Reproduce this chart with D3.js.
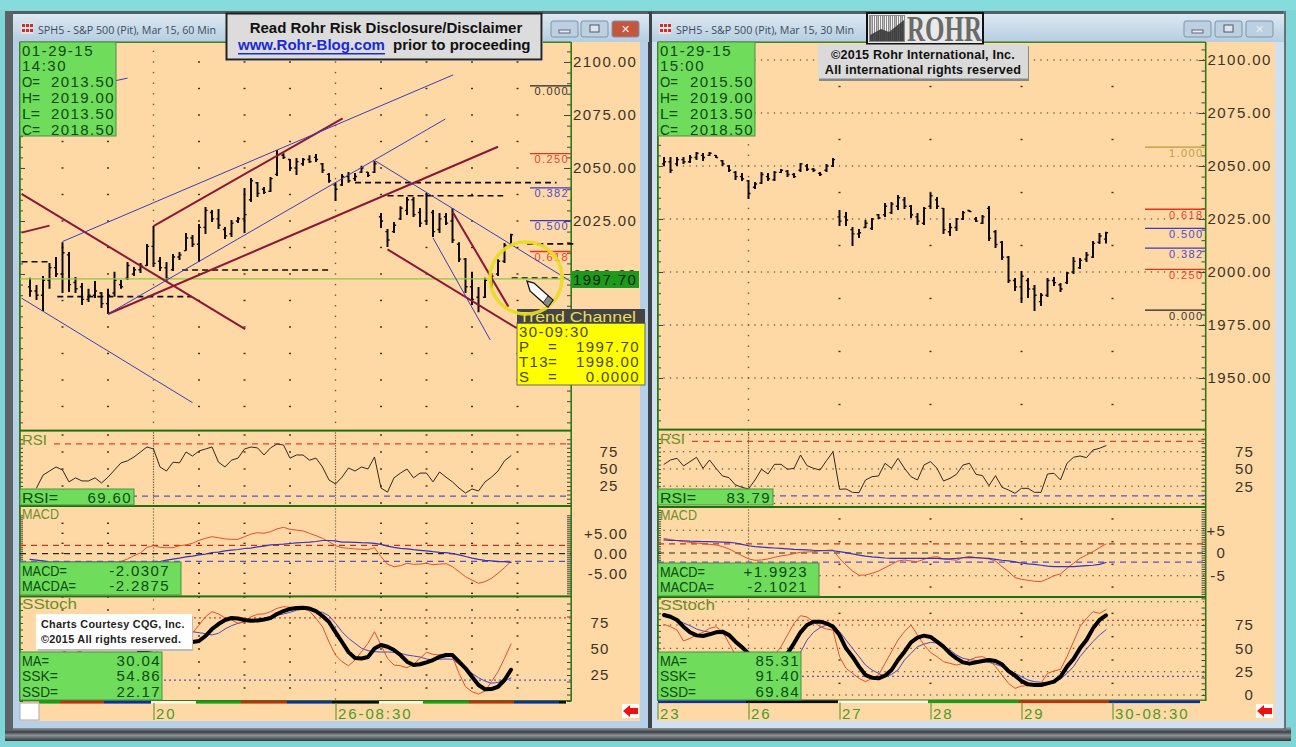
<!DOCTYPE html>
<html><head><meta charset="utf-8">
<script src="https://cdnjs.cloudflare.com/ajax/libs/d3/7.8.5/d3.min.js"></script>
<style>html,body{margin:0;padding:0;background:#7fd6d6;overflow:hidden}svg{display:block}
text{font-family:"Liberation Sans",Arial,sans-serif}
.dom path{display:none}</style></head><body><svg id="c" width="1296" height="747"></svg>
<script>
// ---------- 60 min window data ----------
const highL=[1998.2,1994.8,1999.1,2005.2,2008,2015,2010.4,1998.6,1995.8,1993,1996.7,1991.5,1993,2001,1997.2,2005.7,2003.3,2005.2,2014.2,2022.6,2008,2005.7,2009.4,2010.4,2019.3,2018.4,2023.6,2031.6,2030.2,2030.7,2022.2,2025.5,2026.9,2040.6,2045.3,2043.4,2041,2045.8,2058.5,2057,2054.25,2054.75,2054.75,2056,2056.6,2052.4,2047.6,2043,2047.2,2048.1,2047.6,2051,2048.1,2053.3,2028.8,2021.2,2024.5,2032,2036.3,2036.3,2031.1,2038.2,2030.2,2028.8,2028.8,2031.1,2015,2007.5,2001,1993.9,1998.2,2000.5,2007,2014.6,2019];
const lowL=[1989.2,1987.7,1982.5,1993,1998.6,1991,1991.5,1991,1985.4,1986.8,1988.7,1984,1981.1,1989.2,1993,1997.2,1999.1,2000.5,2003.8,2003.3,2001.4,1996.7,2001.4,2006.6,2010.9,2012.7,2005.7,2018.9,2024.5,2021.2,2016.5,2017.5,2024,2019.3,2034,2036.3,2037.7,2038.7,2046.2,2054.25,2048.6,2046.7,2051,2052.4,2052.8,2047.6,2043,2034.4,2041.5,2043,2043.9,2047.6,2045.8,2047.6,2021.7,2012.7,2019.3,2025.5,2027.8,2026.9,2022.2,2023.1,2017.5,2019.3,2023.1,2014.6,2005.7,1991,1985.4,1982,1988.7,1993.4,1999.1,2005.2,2013.5];
const openL=[1994,1992,1990,1997,2003,2000,2009,1996,1994,1988,1990,1991,1986,1991,1995,1998,2000,2002,2004,2013,2006,2003,2002,2008,2011,2017,2014,2022,2029,2026,2021,2019,2025,2026,2035,2043,2040,2039,2047,2056,2054,2050,2052,2054,2055,2052,2047,2042,2042,2046,2045,2048,2048,2048,2027,2020,2020,2026,2030,2035,2029,2025,2029,2021,2027,2025,2014,2007,1994,1989,1989,1996,2000,2006,2013.5];
const closeL=[1992,1990,1997,2003,2000,2010,1995,1993,1988,1990,1992,1986,1990,1997,1994,2004,2002,2004,2013,2005,2003,1998,2008,2009,2017,2014,2022,2030,2026,2023,2018,2024,2026,2028,2044,2038,2038.5,2045,2056,2055,2050,2053,2054,2053,2054,2049,2044,2040,2046,2044,2046,2050,2046.5,2052,2025,2016,2023,2031,2035,2028,2024,2037,2020,2026,2024,2016,2007,1994,1988,1985,1997,1999,2006,2013.5,2018.5];
const rsiL=[null,22,41,47,53,48.5,31,37,32.4,32.4,37,29.4,38,48.5,59,62,67.7,75,82.4,79.4,53,47,60,59,75,69,76.5,79.4,82.4,60,53,63,66,79.4,82.4,81,70.6,81,86.8,85.3,66,70.6,70.6,63,66,53,33.8,28,38,51.5,47,53,50,67.7,22,16,37,44,50,37,44,44,31,45.6,38,31,22,14.7,20.6,17.7,31,38,47,62,69.6];
const macdL=[null,null,null,null,null,null,null,null,null,null,null,null,null,null,-2.1,-1.4,-.6,.1,1.5,1.9,1.5,1.4,1.4,1.9,2.1,2.5,3.25,3.75,4.15,3.9,3.6,3.5,3.5,4.15,4.8,5.15,5,5.4,6.1,6.5,6,5.8,5.6,5,4.4,3.75,2.9,1.9,1.4,1.25,1.1,1,.9,1.4,-.85,-2.75,-3.35,-3.1,-2.5,-2.75,-2.7,-2.5,-2.85,-2.7,-2.6,-3.35,-4.6,-5.85,-6.7,-7.5,-7.1,-6.25,-5,-3.6,-2.03];
const macdaL=[-1.5,-1.7,-1.9,-2.2,-2.2,-2.2,-2.2,-2.2,-2.2,-2.2,-2.2,-2.2,-2.2,-2.2,-2.2,-2.2,-2.2,-2.2,-2.2,-2.2,-2.05,-1.7,-1.45,-1.2,-.9,-.7,-.4,-.2,.2,.3,.6,.8,.95,1.2,1.3,1.6,1.8,2.1,2.2,2.3,2.45,2.6,2.7,2.8,2.95,3.2,3.2,3.1,2.8,2.8,2.75,2.65,2.6,2.5,2.25,1.8,1.5,1.25,1.1,.9,.75,.6,.4,.25,.15,-.1,-.4,-.8,-1.2,-1.5,-1.75,-1.9,-2.1,-2.1,-2.29];
const stochMaL=[null,null,null,null,null,null,null,null,null,null,null,null,null,null,29.8,34.6,41.3,48.6,49,50,51,52,53,54.8,56.7,56.7,57.7,62.5,69.2,74,77.9,79.8,79.3,77.9,77.2,77.4,78.4,79.8,83.7,86.5,88.5,89.4,89.7,88.9,86.5,81.7,76,66.3,56.7,47,41.3,40.9,42.3,50.5,53.8,52.2,49,44.2,37.8,34.6,35.3,37.2,39.4,42.6,44.2,44.2,37.8,31.4,23.4,15.4,11.3,11.5,13.7,20.2,30.04];
const stochSskL=[null,null,null,null,34.6,47,49,48.6,47,34.6,25,20,15.4,20,25,29.8,34.6,39.4,41,44,51,53.8,52,50,58.7,65.4,73,81,85.9,83.7,80,77.9,74.7,76.2,81,83.4,83.7,85.9,89.1,90.7,90.1,89.7,89.1,86.5,79.5,71.4,56.7,44.2,37.8,33.9,39.4,47.4,55.5,66.6,53.8,41,34.6,33.9,32,35.3,41,46.8,44.9,44.2,44.2,42.6,26.6,13.7,8.9,6.7,9.6,18.6,28.2,41,54.86];
const stochSsdL=[null,null,null,null,null,null,null,null,null,null,null,null,null,null,null,null,null,44.2,48,52,55.8,58.7,61.5,64.4,66,66.6,65.7,64.7,63.5,65.1,69.2,72.4,74.7,76.2,77.2,77.9,79.1,80.8,82.4,83.7,85.3,87.2,88.2,87.5,85.9,85.3,82,74.7,66.6,60.3,55.5,50.7,48.4,47.4,47.1,47.1,46.8,45.9,44.2,43.3,42.3,40.4,39.4,40.1,40.4,40.1,35.3,30.8,26.6,22.4,19.2,17,18,19.2,22.17];
const fibNamesL=["0.000","0.250","0.382","0.500","0.618"];
const fibPricesL=[2088.7,2056.8,2040.6,2025.2,2010.6];
const fibColorsL=["#222","#e8321e","#3a3ac8","#3a3ac8","#e8321e"];
const dashPricesL=[2005.8,1989.3,2001.9,2043.1,2036.9,2014.2,1998.1];
const dashFromL=[-1.3,4.2,23.4,50,55,76.5,74.1];
const dashToL=[2.7,24.9,46.2,81,72.8,83.7,81.5];
// trend lines as [bar index, price, bar index, price]
const blueLinesL=[[5,2015.3,65.1,2093.9],[12,1981.1,63.9,2073.1],[10.8,2089.6,15,2092.4],[-1.3,1988.6,25,1939.3],[53.1,2053.4,83.1,1996.7],[62,2017,70.8,1968.9]];
const redLinesL=[[12,1981.1,72,2060],[19,2022.6,48.1,2073.4],[-1.3,2037.8,33.1,1974],[-1.3,2019.5,3,2022.8],[55,2011.6,74.9,1974.4],[65,2029.4,73.6,1984.6]];
const lastPriceL=1997.7;
// ---------- 30 min window data ----------
const highR=[2054.25,2054.25,2054.25,2054.25,2055.2,2056.6,2056.1,2056.6,2055.2,2052.8,2050.5,2047.6,2046.7,2043.4,2042.45,2047.2,2046.7,2047.6,2048.6,2048.1,2046.7,2051.4,2050.9,2049,2047.2,2050.9,2053.8,2029.2,2028.3,2021.2,2020.3,2024.5,2025.5,2027.4,2032.5,2033,2036.3,2035.4,2031.6,2027.8,2030.7,2037.3,2035.4,2030.2,2023.1,2025.5,2028.8,2029.2,2025.9,2026.9,2031.1,2019.8,2014.6,2007.5,1997.2,2000.5,1997.2,1993.9,1990.1,1997.2,1997.6,1994.8,2000,2007.1,2006.6,2009.4,2014.6,2018.4,2019];
const lowR=[2050,2046.7,2050,2051,2051.4,2052.8,2052.35,2054.7,2053.8,2050,2047.2,2043.4,2042.9,2034.4,2039.15,2041.5,2042.9,2042.9,2046.7,2044.8,2044.3,2047.2,2047.6,2047.2,2045.3,2047.2,2049.5,2021.7,2021.7,2012.3,2016,2020.8,2019.8,2025,2025.9,2027.4,2029.2,2029.7,2025.5,2022.2,2022.2,2029.7,2029.7,2017.9,2017,2019.3,2024.5,2028.3,2023.6,2022.6,2014.6,2011.3,2005.7,1994.8,1991,1985.4,1987.7,1981.6,1984,1988.2,1993.4,1990.6,1994.3,1999,2001.4,2004.7,2006.6,2013.2,2013.5];
const openR=[2051,2052,2051,2053,2052,2054,2055,2055,2055,2052.5,2050,2047,2045,2043,2040,2042,2045,2043.5,2047,2047.5,2046,2048,2050,2048.5,2046.5,2048,2050,2026,2026,2020,2018,2021,2020.5,2027,2027,2028,2031,2034,2031,2026,2023,2031,2034,2030,2019,2021,2025,2029,2025,2023,2030,2019,2014,2007,1996,1993,1996,1992,1986,1989,1996,1994,1995,2000,2002,2006,2007,2014,2015.5];
const closeR=[2052,2048,2053,2052,2054,2056,2054,2056,2054,2051,2048,2045,2044,2037,2041.5,2046,2044,2047,2048,2046,2045,2051,2048.5,2048,2046,2050,2053,2024,2024.5,2018,2018.5,2023,2025,2025.5,2031,2032,2035,2031,2027,2024,2030,2036,2031,2020,2021,2025,2028,2028.5,2024,2026,2016,2013,2007,1996,1993,1998,1992,1989,1989,1996,1995,1992,1999.5,2005,2005.5,2008,2013.5,2017,2018.5];
const rsiR=[56.7,63,65.4,54.3,60.6,66.9,50.9,63,50.9,39.8,37.4,26.8,23.4,21,34,49.5,42.7,56.7,56.7,49.5,50.9,70.2,54.8,50.9,48.5,62,75,20.5,21,16.1,15.6,34,38.8,39.8,58.2,50.9,65.4,50.9,38.8,34,55.7,60.6,50.9,32.6,36.4,42.2,55.7,58.2,42.2,40.3,25.8,40.3,23.4,19.5,14.7,21.9,21.9,16.1,16.1,42.7,43.7,34,58.2,66.9,68.8,66.4,77.5,79.9,83.79];
const macdR=[3.23,2.94,2.72,2.5,2.35,2.2,2.06,1.9,1.77,1.4,.9,.15,-.58,-1.3,-1.6,-1.54,-1.3,-.95,-.65,-.44,-.14,.15,.22,.3,.45,.59,.67,-1.17,-2.64,-3.96,-4.9,-4.84,-4.47,-3.96,-3.23,-2.49,-1.76,-1.54,-1.76,-1.9,-1.39,-.95,-.8,-1.3,-1.46,-1.6,-1.02,-.73,-1.02,-1.17,-1.3,-1.76,-3,-4.1,-5.43,-5.8,-6,-6.23,-6.3,-5.72,-4.99,-4.62,-3.37,-2.27,-1.17,-.44,.3,1.18,1.99];
const macdaR=[2.87,2.8,2.75,2.7,2.6,2.55,2.5,2.5,2.45,2.4,2.35,2.2,1.9,1.6,1.4,1.3,1.2,1.1,1,.9,.8,.75,.7,.6,.55,.5,.5,.3,.1,-.2,-.45,-.7,-.85,-.95,-1.1,-1.17,-1.17,-1.17,-1.17,-1.17,-1.2,-1.2,-1.2,-1.3,-1.3,-1.2,-1.05,-1,-1.02,-1.1,-1.2,-1.4,-1.6,-1.75,-1.95,-2.2,-2.4,-2.5,-2.7,-2.9,-3,-3,-3,-3,-2.9,-2.8,-2.7,-2.5,-2.1];
const stochMaR=[85.7,83.9,80.4,73.2,67.2,63.9,63.2,65,67.2,67.9,64.3,57.2,51.1,44.6,32.1,21.4,21.4,30.4,39.3,44.6,55.4,67.2,75,78.6,78.6,76.8,73.2,64.3,50,41.1,30.4,21.4,18.6,17.9,20.7,26.8,37.5,46.4,56.4,61.4,63.6,62.2,57.2,51.8,44.6,39.3,35,33.6,35,36.4,37.5,36.4,32.9,25.7,20.7,15,11.4,10.7,10.7,12.5,14.3,19.6,30.4,38.6,50,58.9,71.4,80.4,85.31];
const stochSskR=[75.7,73.2,69.7,57.9,60.7,64.3,67.2,71.4,73.2,67.9,55.4,42.9,32.1,17.9,10.7,14.3,28.6,42.9,51.8,64.3,76.8,85,83.6,78.6,73.2,70.7,69.7,41.1,28.6,23.2,17.9,14.3,17.9,21.4,33.9,46.4,58.9,67.9,75,64.3,53.6,45.7,41.1,35.7,33.9,32.1,33.9,37.5,40.4,41.1,37.5,30.4,21.4,12.5,7.1,9.6,10,12.5,12.5,23.2,25.7,27.5,41.1,57.2,73.2,82.2,89.3,87.5,91.4];
const stochSsdR=[85.7,82.9,80.4,77.2,74.3,70.7,68.6,67.2,66.1,65.7,62.5,58.9,53.6,46.4,39.3,30.4,25,19.6,23.2,32.1,39.3,45.7,58.9,67.2,72.2,75,75.7,67.9,58.9,50,41.1,32.1,26.8,23.2,19.6,22.1,26.8,37.5,44.6,51.8,54.6,56.4,55.7,51.8,48.2,42.9,39.3,37.9,37.1,36.4,35,32.9,30.4,27.5,23.2,19.6,16.1,14.3,13.6,13.2,14.3,17.1,23.2,30.4,41.1,49.3,57.2,64.3,69.84];
const fibNamesR=["1.000","0.618","0.500","0.382","0.250","0.000"];
const fibPricesR=[2058.9,2029.6,2020.6,2011.3,2001.2,1982];
const fibColorsR=["#b89a3a","#e8321e","#3a3ac8","#3a3ac8","#e8321e","#222"];
// ---------- labels ----------
const priceTicksL=[2100,2075,2050,2025],priceTicksR=[2100,2075,2050,2025,2000,1975,1950];
const pctTicks=[75,50,25],stochTicksR=[75,50,25,0];
const macdTicksL=[5,0,-5];
const timeTicksL=[19,47],timeLabelsL=["20","26-08:30"];
const timeTicksR=[-1,13,27,41,55,69],timeLabelsR=["23","26","27","28","29","30-08:30"];
const ohlcL=[["01-29-15",""],["14:30",""],["O=","2013.50"],["H=","2019.00"],["L=","2013.50"],["C=","2018.50"]];
const ohlcR=[["01-29-15",""],["15:00",""],["O=","2015.50"],["H=","2019.00"],["L=","2013.50"],["C=","2018.50"]];

// ---------- scales ----------
const xL=d3.scaleLinear().domain([0,74]).range([30,511]);
const xR=d3.scaleLinear().domain([0,68]).range([664,1106]);
const yL=d3.scaleLinear().domain([1926.4,2109.43]).range([430,42]);
const yR=d3.scaleLinear().domain([1925.94,2108.49]).range([429,42]);
const rsiYL=d3.scaleLinear().domain([0,100]).range([503,435]);
const rsiYR=d3.scaleLinear().domain([0,100]).range([503.45,434.45]);
const macdYL=d3.scaleLinear().domain([-5,5]).range([573.3,533.3]);
const macdYR=d3.scaleLinear().domain([-5,5]).range([575.7,530.3]);
const stoYL=d3.scaleLinear().domain([0,100]).range([701,597]);
const stoYR=d3.scaleLinear().domain([0,100]).range([695,601.7]);

const svg=d3.select("#c");
const defs=svg.append("defs");
const tg=defs.append("linearGradient").attr("id","tb").attr("x1",0).attr("x2",0).attr("y1",0).attr("y2",1);
tg.append("stop").attr("offset",0).attr("stop-color","#dde8f2");tg.append("stop").attr("offset",1).attr("stop-color","#b5cde2");
const bg=defs.append("linearGradient").attr("id","bb").attr("x1",0).attr("x2",0).attr("y1",0).attr("y2",1);
[["0","#a9acae"],[".35","#3b4146"],[".6","#8c9296"],["1","#2f3539"]].forEach(s=>bg.append("stop").attr("offset",s[0]).attr("stop-color",s[1]));
const PEACH="#fed9a5",GB="#6fdc5c",PB="#2d7a16";
const hy=s=>String(s).replace("\u2212","-");
const rect=(g,x,y,w,h,f,extra)=>{const r=g.append("rect").attr("x",x).attr("y",y).attr("width",w).attr("height",h).attr("fill",f);if(extra)for(const k in extra)r.attr(k,extra[k]);return r;};
const txt=(g,x,y,s,o={})=>{const t=g.append("text").attr("x",x).attr("y",y).text(s).attr("font-size",o.size||15).attr("fill",o.fill||"#222").attr("dominant-baseline","central");
 if(o.anchor)t.attr("text-anchor",o.anchor);if(o.ls!==undefined)t.style("letter-spacing",o.ls+"px");else t.style("letter-spacing","1.4px");if(o.weight)t.attr("font-weight",o.weight);if(o.family)t.style("font-family",o.family);
 if(o.len)t.attr("textLength",o.len).attr("lengthAdjust","spacingAndGlyphs").style("letter-spacing","0px");return t;};

// ---------- desktop & window chrome ----------
rect(svg,0,0,1296,747,"#7fd6d6");
rect(svg,0,0,1296,10,"#86dcdc");
rect(svg,5,727,1286,14,"url(#bb)");
rect(svg,5,11,1280,3,"#565c60");
rect(svg,5,11,8,720,"#5c6265");
rect(svg,1283,11,3,720,"#6a7074");
rect(svg,13,14,636,714,"#b6d0ea");
rect(svg,652,14,632,714,"#cfe0f0");
rect(svg,648,12,4,716,"#3d4347");
rect(svg,13,14,636,28,"url(#tb)");
rect(svg,652,14,632,28,"url(#tb)");
rect(svg,20,42,620,679,PEACH);
rect(svg,658,42,617,679,PEACH);

// window title, icon, buttons
const win=(x0,title,btns,closeRed)=>{
 const g=svg.append("g");
 rect(g,x0,23,12,11,"#e8e2e2");
 d3.range(3).forEach(i=>d3.range(2).forEach(j=>rect(g,x0+1+i*4,24+j*5,3,3,"#c83030")));
 txt(g,x0+17,29,title,{size:11,fill:"#3c4c5c",len:178,family:"'Open Sans',sans-serif"});
 btns.forEach((b,i)=>{
  rect(g,b,21,27,16,(i==2&&closeRed)?"#c4563e":"#bcd0e2",{stroke:"#7d95aa",rx:2});
  if(i==0)rect(g,b+8,30,11,3,"#e8eef4",{stroke:"#667"});
  if(i==1)rect(g,b+9,25,9,7,"#dde6ee",{stroke:"#556"});
  if(i==2)txt(g,b+13.5,29,"✕",{size:11,anchor:"middle",fill:closeRed?"#fbeee8":"#e8eef4",ls:0,weight:"bold",family:"'DejaVu Sans'"});
 });
};
win(21,"SPH5 - S&P 500 (Pit), Mar 15, 60 Min",[551,581,612],true);
win(659,"SPH5 - S&P 500 (Pit), Mar 15, 30 Min",[1184,1215,1246],false);

// ---------- generic dot grids ----------
const dots=(g,xs,ys,c,w,h)=>{ g.append("g").selectAll("rect").data(d3.cross(xs,ys)).join("rect")
  .attr("x",d=>d[0]-(w||2)/2).attr("y",d=>d[1]-(h||1.4)/2).attr("width",w||2).attr("height",h||1.4).attr("fill",c||"#3b2c14");};
const priceRows=(a,b,s)=>d3.range(a,b,s);

// ---------- one chart window ----------
function chart(o){
 const g=svg.append("g");
 const {x,y,rsiY,macdY,stoY,L,R}=o;
 dots(g,o.sparseX.map(x),o.sparseRows.map(y));
 if(o.denseRows) dots(g,d3.range(-1,84).map(x),o.denseRows.map(y),"#5e4e2e",1.3,1.2);
 dots(g,o.denseX.map(x),priceRows(1930,2110,5).map(y),"#6a5a3a",1.4,1.4);
 // panel dot rows
 [[rsiY,o.rsiRows,o.rsiDense],[macdY,o.macdRows,o.macdDense],[stoY,o.stoRows,o.stoDense]].forEach(([s,rows,dn])=>{
   dots(g,o.sparseX.map(x),rows.map(s));
   if(dn)dots(g,d3.range(-1,84).map(x),dn.map(s),"#5e4e2e",1.3,1.2);
 });
 dots(g,o.denseX.map(x),d3.range(0,100,3.6).map(v=>o.rsiPx[0]+v*0.72),"#6a5a3a",1.2,1.3);
 dots(g,o.denseX.map(x),d3.range(0,84,o.macdStep).map(v=>o.macdPx+v),"#7a6a4a",1.2,1.3);
 dots(g,o.denseX.map(x),d3.range(0,100,9).map(v=>o.stoPx+v),"#6a5a3a",1.2,1.3);

 // axes ticks
 const axis=(gen,tx,ty)=>{const a=g.append("g").attr("transform",`translate(${tx},${ty||0})`).call(gen);a.select(".domain").remove();a.selectAll(".tick line").attr("stroke","#444");a.selectAll("text").remove();return a;};
 [[y,priceRows(1930,2110,5)],[rsiY,d3.range(0,100,6.25)],[macdY,d3.range(-10,10,o.macdMinor)],[stoY,d3.range(0,100,6.25)]].forEach(([s,vals])=>{
   axis(d3.axisLeft(s).tickValues(vals).tickSize(4).tickFormat(""),R);
   axis(d3.axisRight(s).tickValues(vals).tickSize(3).tickFormat(""),L);
 });
 [[y,o.priceTicks.concat(o.extraMajor||[])]].forEach(([s,vals])=>{
   axis(d3.axisLeft(s).tickValues(vals).tickSize(7).tickFormat(""),R);
   axis(d3.axisRight(s).tickValues(vals).tickSize(5).tickFormat(""),L);
 });

 // panel borders
 rect(g,L-1,42,1.8,o.bottom-42,PB);
 rect(g,R-.6,42,1.6,o.bottom-42,PB);
 rect(g,L,41.5,R-L,1.4,PB);
 [o.rsiTop,o.macdTop,o.stoTop].forEach(v=>rect(g,L,v,R-L,2,"#1f7010"));
 rect(g,L-1,o.bottom-1,R-L+2,1.4,PB);

 // price axis
 const pa=g.append("g").attr("transform",`translate(${R+1},0)`).call(d3.axisRight(y).tickValues(o.priceTicks).tickFormat(d3.format(".2f")).tickSize(0).tickPadding(1));
 pa.select(".domain").remove();
 pa.selectAll("text").attr("font-size",15).attr("fill","#3a3428").style("letter-spacing","1.45px").style("font-family","'Liberation Sans'");

 const labAxis=(s,vals,fmt,px,anchor)=>{const a=g.append("g").attr("transform",`translate(${px},0)`).call((anchor=="end"?d3.axisLeft(s):d3.axisRight(s)).tickValues(vals).tickFormat(fmt).tickSize(0).tickPadding(0));
   a.select(".domain").remove();a.selectAll("text").attr("font-size",15).attr("fill","#3a3428").style("letter-spacing","1.2px").style("font-family","'Liberation Sans'");return a;};
 labAxis(rsiY,pctTicks,d3.format("d"),o.rsiLabX,"end");
 labAxis(macdY,macdTicksL,o.macdFmt,o.macdLabX,"end");
 labAxis(stoY,o.stoTicks,d3.format("d"),o.stoLabX,"end");

 // bars
 const bars=d3.range(o.high.length);
 const path=d3.path();
 bars.forEach(i=>{const X=x(i);path.moveTo(X,y(o.high[i]));path.lineTo(X,y(o.low[i]));});
 g.append("path").attr("d",path).attr("stroke","#0c0c10").attr("stroke-width",2).attr("fill","none");
 const tick=d3.path();
 bars.forEach(i=>{const X=x(i);tick.moveTo(X-2.1,y(o.open[i]));tick.lineTo(X,y(o.open[i]));tick.moveTo(X,y(o.close[i]));tick.lineTo(X+2.1,y(o.close[i]));});
 g.append("path").attr("d",tick).attr("stroke","#0c0c10").attr("stroke-width",1.4).attr("fill","none");

 // level lines
 const hline=(s,v,c,d,sw)=>g.append("line").attr("x1",o.levelX0).attr("x2",R).attr("y1",s(v)).attr("y2",s(v)).attr("stroke",c).attr("stroke-width",sw||1.2).attr("stroke-dasharray",d);
 hline(rsiY,o.rsiHi,"#e2402c","6 5");hline(rsiY,o.rsiLo,"#5252d0","6 5");
 g.append("line").attr("x1",L).attr("x2",R).attr("y1",macdY(2)).attr("y2",macdY(2)).attr("stroke","#c8321e").attr("stroke-width",1.2).attr("stroke-dasharray","6 5");
 g.append("line").attr("x1",L).attr("x2",R).attr("y1",macdY(0)+o.zeroOff).attr("y2",macdY(0)+o.zeroOff).attr("stroke","#2a2a22").attr("stroke-width",1.2).attr("stroke-dasharray","6 5");
 g.append("line").attr("x1",L).attr("x2",R).attr("y1",macdY(-2)).attr("y2",macdY(-2)).attr("stroke","#5252d0").attr("stroke-width",1.2).attr("stroke-dasharray","6 5");
 hline(stoY,80,"#e2402c","2 3");hline(stoY,20,"#5252d0","2 3");

 // indicators
 const ln=(s,arr,c,w)=>g.append("path").datum(arr).attr("d",d3.line().defined(d=>d!==null).x((d,i)=>x(i)).y(d=>s(d))).attr("fill","none").attr("stroke",c).attr("stroke-width",w).attr("stroke-linejoin","round").attr("stroke-linecap","round");
 ln(rsiY,o.rsi,"#2e2a20",1);
 ln(macdY,o.macd,"#e84e30",1);
 ln(macdY,o.macda,"#3434c0",1.2);
 ln(stoY,o.ssd,"#4a4ac4",1);
 ln(stoY,o.ssk,"#e84e30",1);
 ln(stoY,o.ma,"#000",4);

 // fib
 o.fibNames.forEach((n,i)=>{
  const v=o.fibPrices[i];
  g.append("line").attr("x1",o.fibX).attr("x2",R).attr("y1",y(v)).attr("y2",y(v)).attr("stroke",o.fibColors[i]).attr("stroke-width",1.3);
  txt(g,R-2,y(v)+5.5,n,{size:11,anchor:"end",fill:o.fibColors[i],ls:1.4}).attr("opacity",.9);
 });

 // time strip
 o.strip.forEach(s=>rect(g,s[0],o.bottom,s[1]-s[0],2.6,s[2]));
 const ta=g.append("g").attr("transform",`translate(0,${o.bottom+2})`).call(d3.axisBottom(x).tickValues(o.timeTicks).tickFormat((d,i)=>o.timeLabels[i]).tickSize(17));
 ta.select(".domain").remove();
 ta.selectAll("line").attr("stroke","#6a9a3a").attr("stroke-width",1.2);
 ta.selectAll("text").attr("text-anchor","start").attr("x",2).attr("y",2).attr("dy","0.95em").attr("font-size",15).attr("fill","#4a9a2a").style("letter-spacing","1.9px").style("font-family","'Liberation Sans'");

 // panel titles
 txt(g,L+2,o.rsiTop+10,"RSI",{size:14,fill:"#6a8f2a",len:25});
 txt(g,L+2,o.macdTop+9,"MACD",{size:14,fill:"#6a8f2a",len:37});
 txt(g,L+2,o.stoTop+9,"SStoch",{size:14,fill:"#6a8f2a",len:55});
 o.post&&o.post(g);

 // green read-outs
 const box=(bx,by,bw,bh,rows,pad)=>{rect(g,bx,by,bw,bh,GB,{stroke:"#4f8f45","stroke-width":1});
  rows.forEach((r,i)=>{const ty=by+8+i*15.8;
    const isLab=!!r[1];
    txt(g,bx+2,ty,r[0],isLab?{fill:"#0d4a10",len:r[0].length*9}:{fill:"#0d4a10",ls:1.5});
    if(r[1])txt(g,bx+bw-1-(pad||0),ty,r[1],{anchor:"end",fill:"#0d4a10"});});};
 box(L,42,o.ohlcW,94,o.ohlc);
 box(L,o.rsiBox[1],o.rsiBox[0]-L,16,[["RSI=",o.rsiVal]],1);
 box(L,o.macdBox[1],o.macdBox[0]-L,33,[["MACD=",o.macdVal[0]],["MACDA=",o.macdVal[1]]],10);
 box(L,652,o.stoBoxR-L,48,[["MA=",o.stoVal[0]],["SSK=",o.stoVal[1]],["SSD=",o.stoVal[2]]]);

 // red arrow
 const ax=o.arrowX;
 rect(g,ax-1,704,17,14,"#fff");
 g.append("path").attr("d",`M${ax},711 L${ax+7},705 L${ax+7},708 L${ax+15},708 L${ax+15},714 L${ax+7},714 L${ax+7},717 Z`).attr("fill","#f01010");
 return g;
}

const stripL=[[39,60,"#15a015"],[60,104,"#c82a10"],[104,151,"#0e2ca8"],[151,196,"#fbf6e8"],[196,241,"#15a015"],[241,287,"#c82a10"],[287,332,"#0e2ca8"],[332,379,"#0a0a0a"],[379,423,"#fbf6e8"],[423,469,"#15a015"],[469,514,"#c82a10"],[514,559,"#0e2ca8"],[559,566,"#0a0a0a"]];
const stripR=[[658,746,"#0e2ca8"],[746,838,"#0a0a0a"],[838,928,"#fbf6e8"],[928,1019,"#15a015"],[1019,1109,"#c82a10"],[1109,1200,"#0e2ca8"]];
const sparseXL=[5,12,26,33,40,54,61,68,75];

chart({x:xL,y:yL,rsiY:rsiYL,macdY:macdYL,stoY:stoYL,L:20,R:571,bottom:701,
 high:highL,low:lowL,open:openL,close:closeL,rsi:rsiL,macd:macdL,macda:macdaL,ma:stochMaL,ssk:stochSskL,ssd:stochSsdL,
 sparseX:sparseXL,sparseRows:d3.range(1937.5,2110,12.5),denseX:[19,47],
 rsiRows:[100,75,50,25,0],macdRows:d3.range(-10,10,2.5),stoRows:d3.range(0,100.1,12.5),
 rsiPx:[433],macdPx:509,macdStep:3,stoPx:600,macdMinor:.5,
 priceTicks:priceTicksL,extraMajor:[2000],rsiTop:429.6,macdTop:505,stoTop:595.4,
 rsiHi:87,rsiLo:10,levelX0:54,zeroOff:.4,
 rsiLabX:618.5,macdLabX:628,macdFmt:d=>d>0?"+"+d3.format(".2f")(d):hy(d3.format(".2f")(d)),stoLabX:609.5,stoTicks:pctTicks,
 fibNames:fibNamesL,fibPrices:fibPricesL,fibColors:fibColorsL,fibX:530,
 strip:stripL,timeTicks:timeTicksL,timeLabels:timeLabelsL,
 ohlc:ohlcL,ohlcW:96,rsiBox:[134,489],rsiVal:"69.60",macdBox:[181,562],macdVal:["-2.0307","-2.2875"],stoBoxR:162,stoVal:["30.04","54.86","22.17"],arrowX:623,
 post(g){
  const P=d=>[xL(d[0]),yL(d[1]),xL(d[2]),yL(d[3])];
  dashPricesL.forEach((p,i)=>g.append("line").attr("x1",xL(dashFromL[i])).attr("x2",xL(dashToL[i])).attr("y1",yL(p)).attr("y2",yL(p)).attr("stroke","#0c0c0c").attr("stroke-width",1.6).attr("stroke-dasharray","6 4"));
  g.append("line").attr("x1",20).attr("x2",571).attr("y1",yL(lastPriceL)).attr("y2",yL(lastPriceL)).attr("stroke","#8ec63f").attr("stroke-width",1.4);
  redLinesL.forEach(d=>{const p=P(d);g.append("line").attr("x1",p[0]).attr("y1",p[1]).attr("x2",p[2]).attr("y2",p[3]).attr("stroke","#8c1638").attr("stroke-width",2);});
  blueLinesL.forEach(d=>{const p=P(d);g.append("line").attr("x1",p[0]).attr("y1",p[1]).attr("x2",p[2]).attr("y2",p[3]).attr("stroke","#3c3cc0").attr("stroke-width",1);});
 }
});

// 2000.00 label partly hidden by the last-price flag, as in the reference
const ov=svg.append("g");
txt(ov,573,274,"2000.00",{fill:"#3a3428",ls:1.45});
rect(ov,571,271,68,17,"#1b9a1b");
txt(ov,573,279.5,d3.format(".2f")(lastPriceL),{fill:"#0a220a",ls:1.45});

chart({x:xR,y:yR,rsiY:rsiYR,macdY:macdYR,stoY:stoYR,L:658,R:1205.5,bottom:700.5,
 high:highR,low:lowR,open:openR,close:closeR,rsi:rsiR,macd:macdR,macda:macdaR,ma:stochMaR,ssk:stochSskR,ssd:stochSsdR,
 sparseX:[27,41,55,69],sparseRows:d3.range(1937.5,2110,25),denseX:[13],denseRows:d3.range(1950,2110,25),
 rsiRows:[],rsiDense:[100,75,50,25,0],macdRows:[7.5,2.5,-2.5,-7.5],macdDense:[5,-5],stoRows:[87.5,62.5,37.5,12.5],stoDense:[100,75,50,25,0],
 rsiPx:[430],macdPx:510,macdStep:3,stoPx:600,macdMinor:.5,
 priceTicks:priceTicksR,rsiTop:428.6,macdTop:506,stoTop:596,
 rsiHi:90,rsiLo:11,levelX0:692,zeroOff:0,
 rsiLabX:1254,macdLabX:1226,macdFmt:d=>d>0?"+"+d:hy(d3.format("d")(d)),stoLabX:1254,stoTicks:stochTicksR,
 fibNames:fibNamesR,fibPrices:fibPricesR,fibColors:fibColorsR,fibX:1145,
 strip:stripR,timeTicks:timeTicksR,timeLabels:timeLabelsR,
 ohlc:ohlcR,ohlcW:97,rsiBox:[773,489],rsiVal:"83.79",macdBox:[819,563],macdVal:["+1.9923","-2.1021"],stoBoxR:801,stoVal:["85.31","91.40","69.84"],arrowX:1257
});

// ---------- overlays ----------
const over=svg.append("g");
// Trend channel tooltip
rect(over,517,323,128,62,"#ffff00",{stroke:"#666"});
rect(over,517,309,128,14.5,"#444444");
txt(over,519,316.5,"Trend Channel",{size:14,fill:"#e4de58",len:117});
const tipRows=[["30-09:30","",""],["P","=","1997.70"],["T13","=","1998.00"],["S","=","0.0000"]];
tipRows.forEach((r,i)=>{const ty=331+i*15;
  txt(over,519,ty,r[0],{fill:"#4c4a00",ls:1.4});
  if(r[1])txt(over,548,ty,r[1],{fill:"#4c4a00",ls:0});
  if(r[2])txt(over,640,ty,r[2],{anchor:"end",fill:"#4c4a00",ls:1.4});});
// yellow highlight circle and pencil on the left chart
over.append("circle").attr("cx",526).attr("cy",278).attr("r",36).attr("fill","none").attr("stroke","#e8dc22").attr("stroke-width",3.6).attr("opacity",.92);
over.append("path").attr("d","M527,281 L534,283 L553,300 L548,307 L530,291 Z").attr("fill","#fff").attr("stroke","#111").attr("stroke-width",1.3);
over.append("path").attr("d","M548,296 L553,300 L548,307 L543,303 Z").attr("fill","#888").attr("stroke","#111").attr("stroke-width",.8);
// disclaimer
rect(over,228,15,315,46,"#fff");
rect(over,226.5,13.5,315,46,"#dcdcdc",{stroke:"#222","stroke-width":2});
txt(over,386,27,"Read Rohr Risk Disclosure/Disclaimer",{size:15,weight:"bold",fill:"#111",anchor:"middle",ls:0});
txt(over,238,44.5,"www.Rohr-Blog.com",{size:15,weight:"bold",fill:"#1a2ad8",ls:0}).attr("text-decoration","underline");
txt(over,393,44.5,"prior to proceeding",{size:15,weight:"bold",fill:"#111",ls:0});
// logo
rect(over,867,13,116,31,"#e9e9e9",{stroke:"#111","stroke-width":2});
rect(over,869,15,36,27,"#8a8a8a");
d3.range(871,904,2).forEach((v,i)=>rect(over,v,16,1,25,i%3?"#f2f2f2":"#bdbdbd"));
over.append("path").attr("d","M870,35 L881,29 L889,32 L904,20 L904,41 L870,41 Z").attr("fill","#333").attr("opacity",.85);
txt(over,907,29,"ROHR",{size:36,weight:"bold",fill:"#6a6a6a",len:75,family:"'Liberation Serif',serif"});
rect(over,819,46,210,35,"#888");
rect(over,818,44.5,210,34,"#dadada");
txt(over,923,55,"©2015 Rohr International, Inc.",{size:12.6,weight:"bold",fill:"#111",anchor:"middle",ls:.2});
txt(over,923,70,"All international rights reserved",{size:12.6,weight:"bold",fill:"#111",anchor:"middle",ls:.2});
// CQG credit
rect(over,38,616,155,35,"#bbb");
rect(over,36,614,156,35,"#fff");
txt(over,41,624,"Charts Courtesy CQG, Inc.",{size:10.8,weight:"bold",fill:"#222",ls:.3});
txt(over,41,639,"©2015 All rights reserved.",{size:10.8,weight:"bold",fill:"#222",ls:.3});
rect(over,20,703,19,17,"#fff",{stroke:"#aaa"});
</script></body></html>
